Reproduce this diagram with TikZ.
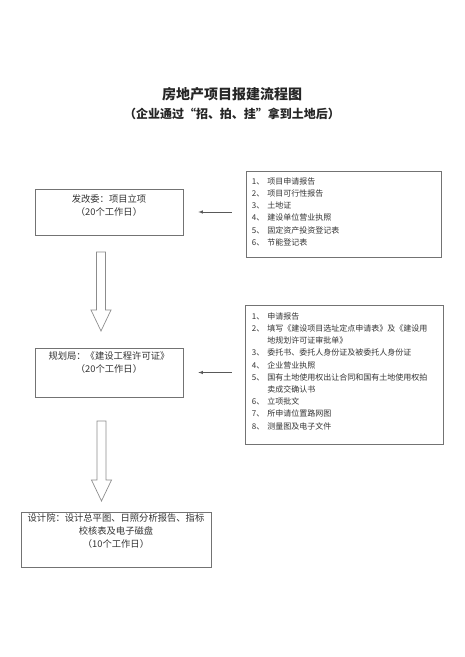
\documentclass[tikz,border=0pt]{standalone}
\usepackage{fontspec}
\setmainfont{Noto Sans CJK SC}
\usetikzlibrary{positioning}
\tikzset{
  box/.style={draw=black!55, line width=0.7pt, inner sep=0pt},
  boxtext/.style={anchor=north, align=center, font=\fontsize{9.3}{13}\selectfont, text=black!80, inner sep=0pt},
  list/.style={anchor=north west, align=left, font=\fontsize{8}{12.2}\selectfont, text=black!80, inner sep=0pt},
  feed/.style={draw=black!65, line width=0.6pt, -latex},
  blk/.style={draw=black!45, line width=0.7pt, line join=miter},
}
\begin{document}
\begin{tikzpicture}[x=1pt, y=-1pt]
  \useasboundingbox (0,0) rectangle (465,657);

  % title
  \node[font=\fontsize{14}{16}\selectfont\bfseries, text=black!85] (title) at (232,94) {房地产项目报建流程图};
  \node[font=\fontsize{12}{14}\selectfont\bfseries, text=black!85] (subtitle) at (232,114) {（企业通过“招、拍、挂”拿到土地后）};

  % left column
  \node[box, minimum width=148pt, minimum height=46pt] (fgw) at (109,212) {};
  \node[boxtext, below=6pt of fgw.north] (fgwtext) {发改委：项目立项\\（20个工作日）};

  \node[box, minimum width=148pt, minimum height=49pt] (ghj) at (109,372.5) {};
  \node[boxtext, below=4pt of ghj.north] (ghjtext) {规划局：《建设工程许可证》\\（20个工作日）};

  \node[box, minimum width=190pt, minimum height=55pt] (sjy) at (116,539.5) {};
  \node[boxtext, below=2pt of sjy.north] (sjytext) {设计院：设计总平图、日照分析报告、指标\\校核表及电子磁盘\\（10个工作日）};

  % right column
  \node[box, minimum width=195pt, minimum height=86pt] (fgwdoc) at (343.5,214) {};
  \node[list] (fgwlist) at ([xshift=6pt, yshift=-5pt]fgwdoc.north west) {%
    \begin{tabular}{@{}l@{\hspace{3pt}}l@{}}
      1、 & 项目申请报告\\
      2、 & 项目可行性报告\\
      3、 & 土地证\\
      4、 & 建设单位营业执照\\
      5、 & 固定资产投资登记表\\
      6、 & 节能登记表
    \end{tabular}};

  \node[box, minimum width=198pt, minimum height=139pt] (ghjdoc) at (344,374.5) {};
  \node[list] (ghjlist) at ([xshift=7pt, yshift=-6pt]ghjdoc.north west) {%
    \begin{tabular}{@{}l@{\hspace{3pt}}l@{}}
      1、 & 申请报告\\
      2、 & 填写《建设项目选址定点申请表》及《建设用\\
          & 地规划许可证审批单》\\
      3、 & 委托书、委托人身份证及被委托人身份证\\
      4、 & 企业营业执照\\
      5、 & 国有土地使用权出让合同和国有土地使用权拍\\
          & 卖成交确认书\\
      6、 & 立项批文\\
      7、 & 所申请位置路网图\\
      8、 & 测量图及电子文件
    \end{tabular}};

  % documents handed in
  \draw[feed, shorten <=14pt, shorten >=15pt] (fgw.east -| fgwdoc.west) -- (fgw.east);
  \draw[feed, shorten <=13pt, shorten >=15pt] (ghj.east -| ghjdoc.west) -- (ghj.east);

  % hollow arrows
  \draw[blk] (96.5,252) -- (96.5,310) -- (91,310) -- (101,331) -- (111,310) -- (105.5,310) -- (105.5,252) -- cycle;
  \draw[blk] (97,421) -- (97,480) -- (91.5,480) -- (101.5,501) -- (111.5,480) -- (106,480) -- (106,421) -- cycle;
\end{tikzpicture}
\end{document}
